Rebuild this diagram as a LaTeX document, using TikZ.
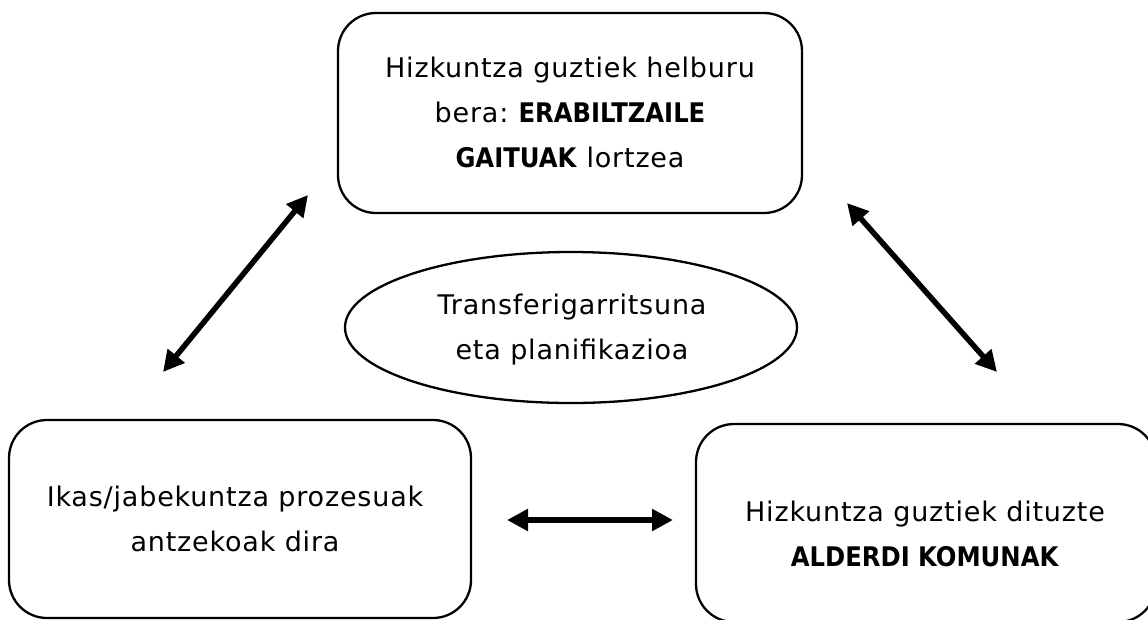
\documentclass[tikz,border=0pt]{standalone}
\usepackage{fontspec}
\setmainfont{DejaVu Sans}[LetterSpace=3.0,BoldFont={DejaVu Sans Condensed Bold},BoldFeatures={LetterSpace=0}]
\usetikzlibrary{arrows.meta,shapes.geometric}
\frenchspacing
\begin{document}
\begin{tikzpicture}[x=1pt,y=-1pt,
  box/.style={draw=black,line width=2.3pt,rounded corners=38pt,minimum width=#1,inner sep=0pt},
  oval/.style={draw=black,line width=2.3pt,ellipse,inner sep=0pt},
  txt/.style={align=center,font=\fontsize{27}{45}\selectfont,inner sep=0pt},
  dbl/.style={line width=5.5pt,{Triangle[length=21pt,width=21pt]}-{Triangle[length=21pt,width=21pt]}}]
\useasboundingbox (0,0) rectangle (1148,619);
\clip (0,0) rectangle (1148,619);
\fill[white] (0,0) rectangle (1148,619);
% boxes
\node[box=464pt,minimum height=200pt] (top) at (570,113) {};
\node[box=462pt,minimum height=198pt] (bl) at (240,519) {};
\node[box=460pt,minimum height=198pt] (br) at (926,523) {};
\node[oval,minimum width=452pt,minimum height=151pt] (mid) at (571,327.5) {};
% texts
\node[txt] (toptxt) at (570,112) {Hizkuntza guztiek helburu\\bera: \textbf{ERABILTZAILE}\\\textbf{GAITUAK} lortzea};
\node[txt] (bltxt) at (235,519) {Ikas/jabekuntza prozesuak\\antzekoak dira};
\node[txt] (brtxt) at (925,534) {Hizkuntza guztiek dituzte\\\textbf{ALDERDI KOMUNAK}};
\node[txt] (midtxt) at (572,330) {Transferigarritsuna\\eta planifikazioa};
% arrow ends
\coordinate (l1a) at (308,195);
\coordinate (l1b) at (163,372);
\coordinate (r1a) at (847,203);
\coordinate (r1b) at (997,372);
\coordinate (h1a) at (507,520);
\coordinate (h1b) at (673,520);
\draw[dbl] (l1b) -- (l1a);
\draw[dbl] (r1a) -- (r1b);
\draw[dbl] (h1a) -- (h1b);
\end{tikzpicture}
\end{document}
